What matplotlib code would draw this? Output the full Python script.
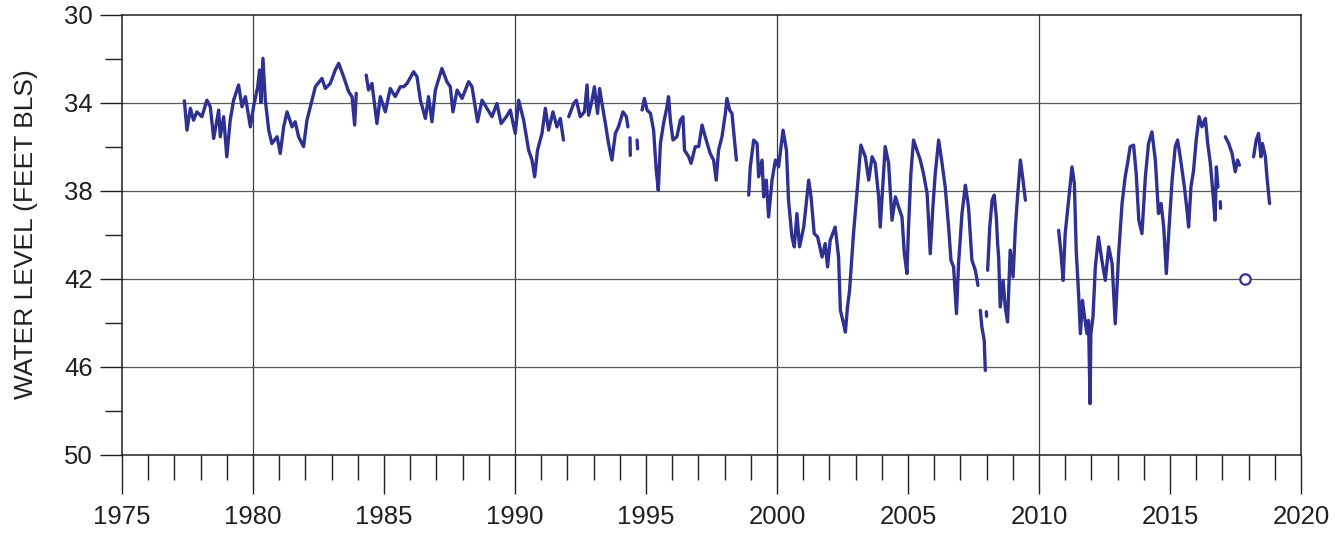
import numpy as np
import matplotlib
matplotlib.use("Agg")
import matplotlib.pyplot as plt

nan = np.nan

# Water level hydrograph (decimal year, feet below land surface); NaN marks gaps in record
years = [
    1977.38, 1977.48, 1977.61, 1977.73, 1977.86, 1978.05, 1978.24, 1978.37, 1978.50, 1978.69,
    1978.75, 1978.88, 1979.00, 1979.13, 1979.26, 1979.45, 1979.58, 1979.71, 1979.90, 1980.02,
    1980.18, 1980.25, 1980.30, 1980.38, 1980.47, 1980.60, 1980.72, 1980.92, 1981.04, 1981.17,
    1981.30, 1981.49, 1981.61, 1981.74, 1981.93, 1982.06, 1982.25, 1982.38, 1982.63, 1982.76,
    1982.95, 1983.14, 1983.27, 1983.46, 1983.65, 1983.78, 1983.88, 1983.94, nan,
    1984.32, 1984.41, 1984.54, 1984.73, 1984.86, 1985.05, 1985.24, 1985.43, 1985.62, 1985.75,
    1985.88, 1986.13, 1986.26, 1986.39, 1986.58, 1986.70, 1986.83, 1986.96, 1987.21, 1987.40,
    1987.53, 1987.63, 1987.79, 1987.98, 1988.23, 1988.36, 1988.57, 1988.74, 1988.93, 1989.12,
    1989.31, 1989.47, 1989.67, 1989.82, 1990.01, 1990.14, 1990.33, 1990.52, 1990.65, 1990.75,
    1990.86, 1991.03, 1991.16, 1991.28, 1991.45, 1991.60, 1991.73, 1991.85, nan,
    1992.05, 1992.24, 1992.34, 1992.49, 1992.65, 1992.75, 1992.81, 1992.94, 1993.03, 1993.15,
    1993.23, 1993.32, 1993.45, 1993.57, 1993.70, 1993.83, 1993.95, 1994.12, 1994.25, 1994.31, nan,
    1994.39, 1994.40, nan,
    1994.66, 1994.68, nan,
    1994.85, 1994.94, 1995.04, 1995.17, 1995.29, 1995.39, 1995.47, 1995.55, 1995.67, 1995.80,
    1995.86, 1995.93, 1996.03, 1996.18, 1996.31, 1996.41, 1996.47, 1996.63, 1996.72, 1996.88,
    1997.01, 1997.14, 1997.26, 1997.45, 1997.58, 1997.68, 1997.77, 1997.90, 1998.03, 1998.09,
    1998.19, 1998.28, 1998.34, 1998.45, nan,
    1998.92, 1998.98, 1999.11, 1999.24, 1999.30, 1999.43, 1999.49, 1999.59, 1999.68, 1999.81,
    1999.94, 2000.06, 2000.23, 2000.36, 2000.44, 2000.57, 2000.66, 2000.76, 2000.86, 2001.02,
    2001.21, 2001.30, 2001.42, 2001.55, 2001.72, 2001.84, 2001.93, 2002.03, 2002.22, 2002.35,
    2002.42, 2002.54, 2002.61, 2002.69, 2002.77, 2002.92, 2003.05, 2003.20, 2003.37, 2003.50,
    2003.63, 2003.75, 2003.88, 2003.94, 2004.05, 2004.13, 2004.26, 2004.39, 2004.52, 2004.64,
    2004.77, 2004.86, 2004.96, 2005.02, 2005.11, 2005.21, 2005.34, 2005.47, 2005.59, 2005.73,
    2005.85, 2005.95, 2006.04, 2006.17, 2006.30, 2006.42, 2006.55, 2006.64, 2006.74, 2006.85,
    2006.93, 2007.06, 2007.19, 2007.31, 2007.44, 2007.57, 2007.67, nan,
    2007.76, 2007.82, 2007.91, 2007.95, nan,
    2007.99, 2008.00, nan,
    2008.04, 2008.12, 2008.21, 2008.29, 2008.37, 2008.42, 2008.46, 2008.52, 2008.63, 2008.71,
    2008.80, 2008.90, 2009.01, 2009.10, 2009.18, 2009.29, 2009.39, 2009.48, nan,
    2010.75, 2010.84, 2010.92, 2011.00, 2011.13, 2011.26, 2011.35, 2011.42, 2011.51, 2011.58,
    2011.66, 2011.74, 2011.83, 2011.89, 2011.95, 2011.98, 2012.06, 2012.15, 2012.27, 2012.40,
    2012.53, 2012.66, 2012.79, 2012.91, 2013.04, 2013.17, 2013.29, 2013.38, 2013.48, 2013.61,
    2013.71, 2013.81, 2013.93, 2014.06, 2014.18, 2014.31, 2014.44, 2014.56, 2014.66, 2014.76,
    2014.86, 2014.95, 2015.08, 2015.20, 2015.29, 2015.39, 2015.55, 2015.65, 2015.71, 2015.80,
    2015.90, 2016.00, 2016.11, 2016.22, 2016.35, 2016.44, 2016.54, 2016.64, 2016.72, 2016.77,
    2016.83, nan,
    2016.92, 2016.93, nan,
    2017.11, 2017.24, 2017.37, 2017.49, 2017.58, 2017.65, nan,
    2018.19, 2018.29, 2018.38, 2018.47, 2018.53, 2018.64, 2018.70, 2018.80,
]

levels = [
    33.92, 35.25, 34.26, 34.80, 34.42, 34.64, 33.89, 34.19, 35.63, 34.34,
    35.55, 34.64, 36.46, 34.80, 33.89, 33.20, 34.19, 33.73, 35.10, 34.19,
    33.28, 32.52, 34.00, 31.99, 33.89, 35.25, 35.86, 35.55, 36.31, 35.10,
    34.42, 35.10, 34.87, 35.55, 36.00, 34.80, 33.89, 33.28, 32.90, 33.36,
    33.13, 32.52, 32.22, 32.83, 33.50, 33.74, 35.02, 33.58, nan,
    32.75, 33.43, 33.13, 34.95, 33.73, 34.42, 33.36, 33.73, 33.28, 33.28,
    33.13, 32.60, 32.83, 33.89, 34.72, 33.73, 34.87, 33.43, 32.45, 33.05,
    33.28, 34.42, 33.43, 33.81, 33.05, 33.28, 34.87, 33.89, 34.26, 34.64,
    34.04, 34.95, 34.64, 34.34, 35.40, 33.89, 34.80, 36.16, 36.61, 37.37,
    36.16, 35.40, 34.26, 35.25, 34.42, 35.10, 34.72, 35.70, nan,
    34.64, 34.04, 33.89, 34.64, 34.42, 33.20, 34.57, 33.89, 33.28, 34.49,
    33.36, 34.04, 34.95, 35.86, 36.61, 35.40, 35.10, 34.42, 34.64, 35.10, nan,
    35.60, 36.40, nan,
    35.70, 36.10, nan,
    34.34, 33.81, 34.34, 34.49, 35.25, 37.07, 37.98, 35.86, 34.95, 34.19,
    33.73, 34.80, 35.70, 35.55, 34.80, 34.64, 36.16, 36.46, 36.76, 36.00,
    36.00, 35.02, 35.55, 36.31, 36.61, 37.52, 36.16, 35.55, 34.49, 33.81,
    34.34, 34.49, 35.25, 36.61, nan,
    38.20, 36.92, 35.70, 35.86, 37.37, 36.61, 38.28, 37.52, 39.19, 37.52,
    36.61, 36.92, 35.25, 36.16, 38.43, 40.10, 40.55, 39.04, 40.55, 39.65,
    37.52, 38.28, 39.95, 40.10, 41.01, 40.40, 41.46, 40.25, 39.65, 41.01,
    43.43, 44.04, 44.42, 43.28, 42.52, 39.95, 38.13, 35.93, 36.46, 37.52,
    36.46, 36.76, 38.28, 39.65, 37.52, 36.00, 36.76, 39.34, 38.28, 38.74,
    39.19, 40.86, 41.76, 39.65, 37.22, 35.70, 36.16, 36.61, 37.22, 38.13,
    40.86, 38.74, 37.22, 35.70, 36.76, 37.83, 39.65, 41.16, 41.46, 43.58,
    41.31, 39.04, 37.75, 38.74, 41.16, 41.61, 42.30, nan,
    43.43, 44.19, 44.80, 46.16, nan,
    43.50, 43.70, nan,
    41.61, 39.65, 38.43, 38.20, 39.19, 40.40, 41.01, 43.28, 42.07, 43.28,
    43.96, 40.70, 41.92, 39.65, 38.28, 36.61, 37.52, 38.43, nan,
    39.80, 40.86, 42.07, 39.95, 38.43, 36.92, 37.67, 40.70, 42.67, 44.49,
    42.98, 43.74, 44.49, 43.89, 47.67, 44.49, 43.74, 41.46, 40.10, 41.16,
    42.07, 40.55, 41.31, 44.04, 40.86, 38.58, 37.37, 36.76, 36.00, 35.93,
    37.22, 39.34, 39.95, 37.37, 35.86, 35.33, 36.61, 39.04, 38.58, 39.65,
    41.76, 39.95, 37.52, 36.00, 35.70, 36.46, 37.83, 38.89, 39.65, 37.83,
    37.07, 35.70, 34.64, 35.10, 34.72, 35.86, 36.76, 38.13, 39.34, 36.92,
    37.83, nan,
    38.50, 38.80, nan,
    35.55, 35.86, 36.31, 37.14, 36.61, 36.84, nan,
    36.46, 35.70, 35.40, 36.46, 35.86, 36.46, 37.37, 38.58,
]

# Single discrete (manual) measurement
manual_year = [2017.85]
manual_level = [42.0]

x_major = [1975, 1980, 1985, 1990, 1995, 2000, 2005, 2010, 2015, 2020]
y_major = [30, 34, 38, 42, 46, 50]
grid_x = [1980, 1990, 2000, 2010]
grid_y = [34, 38, 42, 46]

LINE = "#2e3192"
INK = "#231f20"
plt.rcParams["font.family"] = ["Liberation Sans", "DejaVu Sans"]

W, H = 1338, 537
fig = plt.figure(figsize=(W / 100, H / 100), dpi=100)
L, R, T, B = 122, 1301, 14.5, 455
ax = fig.add_axes([L / W, 1 - B / H, (R - L) / W, (B - T) / H])

for gx in grid_x:
    ax.axvline(gx, color="#3c3c3c", lw=0.9, zorder=1)
for gy in grid_y:
    ax.axhline(gy, color="#5a5a5a", lw=0.9, zorder=1)

ax.plot(years, levels, color=LINE, lw=2.4, solid_joinstyle="round",
        solid_capstyle="round", zorder=3)
ax.plot(manual_year, manual_level, linestyle="none", marker="o", ms=7.5,
        mfc="white", mec=LINE, mew=1.6, zorder=4)

ax.set_xlim(1975, 2020)
ax.set_ylim(50, 30)
ax.set_xticks(x_major)
ax.set_xticks(list(range(1975, 2021)), minor=True)
ax.set_yticks(y_major)
ax.set_yticks([32, 36, 40, 44, 48], minor=True)
ax.set_xticklabels([str(v) for v in x_major])
ax.set_yticklabels([str(v) for v in y_major])

ax.tick_params(axis="x", which="major", direction="out", length=28, width=1.0,
               color=INK, labelsize=18.5, labelcolor=INK, pad=8)
ax.tick_params(axis="x", which="minor", direction="out", length=18, width=1.0, color=INK)
ax.tick_params(axis="y", which="major", direction="out", length=16, width=1.0,
               color=INK, labelsize=18.5, labelcolor=INK, pad=5)
ax.tick_params(axis="y", which="minor", direction="out", length=12.6, width=1.0, color=INK)

for s in ax.spines.values():
    s.set_color(INK)
    s.set_linewidth(1.1)

fig.text(26 / W, 1 - 234 / H, "WATER LEVEL (FEET BLS)", rotation=90,
         ha="center", va="center", fontsize=19, color=INK)

fig.savefig("out.png", dpi=100)
